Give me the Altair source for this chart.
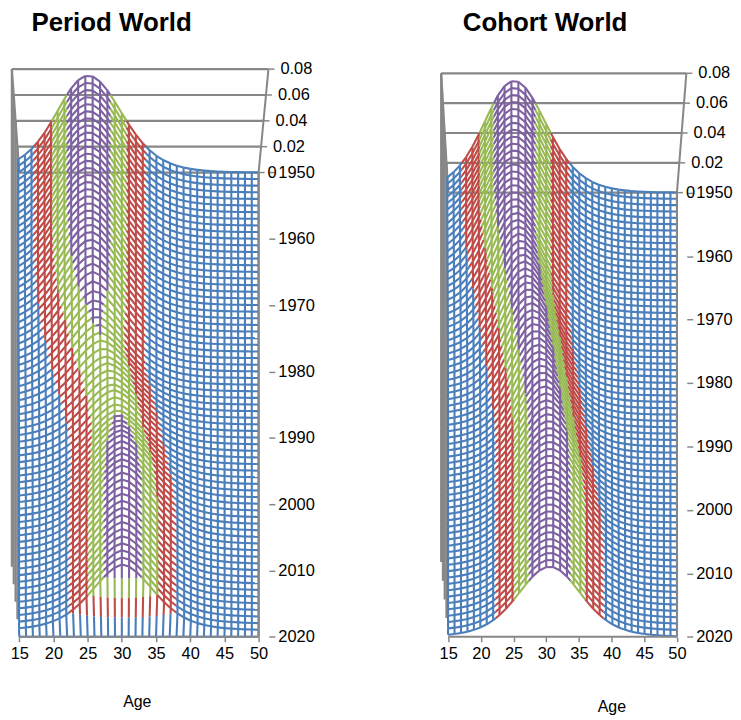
import numpy as np
import pandas as pd
import altair as alt

ages = list(range(15, 51))
years = list(range(1950, 2021))

# Period world, one value per year 1950..2020:
# centre of the younger (left) flank, centre of the older (right) flank, peak height.
# The last row sits on the floor.
period_left_centre = [
    25.4, 25.4, 25.4, 25.4, 25.4, 25.4, 25.4, 25.4, 25.4, 25.4,
    25.4, 25.4, 25.4, 25.4, 25.4, 25.4, 25.4, 25.5, 25.55, 25.6,
    25.7, 25.8, 25.9, 26.0, 26.1, 26.2, 26.3, 26.45, 26.6, 26.75,
    26.85, 26.95, 27.1, 27.3, 27.5, 27.7, 27.95, 28.2, 28.45, 28.7,
    28.95, 29.15, 29.35, 29.6, 29.75, 29.9, 30.05, 30.15, 30.25, 30.35,
    30.4, 30.45, 30.5, 30.5, 30.5, 30.5, 30.5, 30.5, 30.5, 30.5,
    30.5, 30.5, 30.5, 30.5, 30.5, 30.5, 30.5, 30.5, 30.5, 30.5,
    30.5,
]
period_right_centre = [
    25.4, 25.4, 25.4, 25.4, 25.4, 25.4, 25.4, 25.4, 25.4, 25.4,
    25.4, 25.4, 25.4, 25.4, 25.4, 25.4, 25.4, 25.4, 25.4, 25.4,
    25.4, 25.4, 25.4, 25.4, 25.4, 25.45, 25.5, 25.55, 25.6, 25.7,
    25.75, 25.85, 25.95, 26.1, 26.35, 26.7, 27.0, 27.3, 27.6, 27.85,
    28.05, 28.25, 28.45, 28.65, 28.8, 28.95, 29.1, 29.2, 29.3, 29.4,
    29.5, 29.55, 29.6, 29.65, 29.7, 29.75, 29.75, 29.75, 29.75, 29.75,
    29.75, 29.75, 29.75, 29.75, 29.75, 29.75, 29.75, 29.75, 29.75, 29.75,
    29.75,
]
period_peak = [
    0.075, 0.075, 0.075, 0.075, 0.075, 0.075, 0.075, 0.075, 0.075, 0.075,
    0.075, 0.075, 0.075, 0.075, 0.075, 0.075, 0.075, 0.075, 0.075, 0.075,
    0.075, 0.075, 0.075, 0.0745, 0.074, 0.073, 0.072, 0.071, 0.069, 0.067,
    0.065, 0.064, 0.063, 0.062, 0.061, 0.060, 0.059, 0.058, 0.058, 0.058,
    0.058, 0.058, 0.059, 0.059, 0.059, 0.060, 0.062, 0.064, 0.066, 0.068,
    0.070, 0.071, 0.072, 0.073, 0.074, 0.075, 0.075, 0.075, 0.075, 0.075,
    0.075, 0.075, 0.075, 0.075, 0.075, 0.075, 0.075, 0.075, 0.075, 0.075,
    0.0,
]

# Cohort world: mean age of childbearing by birth cohort (1935..1975)
cohort_births = list(range(1935, 1976))
cohort_mean_age = [
    25.4, 25.4, 25.4, 25.4, 25.4,
    25.4, 25.5, 25.6, 25.7, 25.85, 26.0, 26.2, 26.4, 26.6, 26.8,
    27.0, 27.2, 27.4, 27.6, 27.8, 28.0, 28.2, 28.4, 28.6, 28.8,
    29.0, 29.2, 29.4, 29.6, 29.8, 29.95, 30.1, 30.2, 30.3, 30.4,
    30.45, 30.5, 30.5, 30.5, 30.5, 30.5,
]
cohort_peak = 0.075
spread = 6.3  # width of the bell (sech^2 shape), from the 1950 colour bands

band_edges = [0.02, 0.04, 0.06]
band_names = ["0-0.02", "0.02-0.04", "0.04-0.06", "0.06-0.08"]
band_colors = ["#4A7EBB", "#BE4B48", "#98B954", "#7D60A0"]
z_ticks = [0.0, 0.02, 0.04, 0.06, 0.08]
z_labels = ["0", "0.02", "0.04", "0.06", "0.08"]
GRAY = "#878787"
FONT = "Liberation Sans"
FS = 16.5

A, Y = np.meshgrid(ages, years)
mL = np.array(period_left_centre)[:, None]
mR = np.array(period_right_centre)[:, None]
centre = np.where(A < (mL + mR) / 2, mL, mR)
period_z = np.array(period_peak)[:, None] / np.cosh((A - centre) / spread) ** 2
cm = np.array(cohort_mean_age)[np.clip(Y - A - cohort_births[0], 0, len(cohort_births) - 1)]
cohort_z = cohort_peak / np.cosh((A - cm) / spread) ** 2

# view geometry of each panel (pixels per year, pixels per unit of height front/back)
period_view = {"ppy": 6.669, "s_back": 1300, "s_front": 880, "ytop": 1932.53, "width": 261.3}
cohort_view = {"ppy": 6.380, "s_back": 1500, "s_front": 940, "ytop": 1928.57, "width": 249.7}
PLOT_H = 583.3


def project(age, year, z, v):
    x = age + (age - 30.0) * z * 0.9
    s = v["s_back"] + (v["s_front"] - v["s_back"]) * (year - 1950) / 70
    return x, year - z * s / v["ppy"]


def seg(p, q, v, extra=None):
    x0, y0 = project(*p, v)
    x1, y1 = project(*q, v)
    row = {"x": round(float(x0), 3), "x2": round(float(x1), 3),
           "y": round(float(y0), 3), "y2": round(float(y1), 3)}
    if extra:
        row.update(extra)
    return row


def mesh_segments(z, v):
    rows = []

    def add(p, q):
        cuts = [0.0, 1.0] + [(e - p[2]) / (q[2] - p[2]) for e in band_edges
                             if (p[2] - e) * (q[2] - e) < 0]
        cuts.sort()
        for t0, t1 in zip(cuts[:-1], cuts[1:]):
            a = [p[k] + (q[k] - p[k]) * t0 for k in range(3)]
            b = [p[k] + (q[k] - p[k]) * t1 for k in range(3)]
            band = band_names[int(np.searchsorted(band_edges, (a[2] + b[2]) / 2))]
            rows.append(seg(a, b, v, {"band": band}))

    for i, yr in enumerate(years):
        for j in range(len(ages) - 1):
            add((ages[j], yr, z[i, j]), (ages[j + 1], yr, z[i, j + 1]))
        if i + 1 < len(years):
            for j, ag in enumerate(ages):
                add((ag, yr, z[i, j]), (ag, years[i + 1], z[i + 1, j]))
    return pd.DataFrame(rows)


def wall_segments(v):
    rows = [seg((15, 1950, 0.0), (15, 1950, 0.08), v)]
    for zt in z_ticks:
        rows.append(seg((15, 1950, zt), (50, 1950, zt), v))
        if zt > 0:
            rows.append(seg((15, 1950, zt), (15, 2020, zt), v))
    return pd.DataFrame(rows)


def frame_segments(v):
    return pd.DataFrame([
        seg((15, 2020, 0.0), (50, 2020, 0.0), v),
        seg((50, 1950, 0.0), (50, 2020, 0.0), v),
        seg((50, 1950, 0.0), (50, 1950, 0.08), v),
    ])


def panel(z, v, title, title_dx, age_x, age_y):
    xs = alt.Scale(domain=[13.5, 51.5], nice=False, zero=False)
    ys = alt.Scale(domain=[v["ytop"], 2020], reverse=True, nice=False, zero=False)
    x_axis = alt.Axis(values=list(range(15, 51, 5)), domain=False, grid=False,
                      tickColor=GRAY, tickSize=5, tickWidth=1.5,
                      labelFont=FONT, labelFontSize=FS, labelColor="black", labelPadding=4,
                      title="Age", titleFont=FONT, titleFontSize=16, titleFontWeight="normal",
                      titleColor="black", titleX=age_x, titleY=age_y,
                      titleAlign="center", titleBaseline="alphabetic")
    y_axis = alt.Axis(orient="right", values=list(range(1950, 2021, 10)), format="d",
                      domain=False, grid=False, tickColor=GRAY, tickSize=6, tickWidth=1.5,
                      labelFont=FONT, labelFontSize=FS, labelColor="black", labelPadding=3,
                      title=None)
    X = alt.X("x:Q", scale=xs, axis=x_axis)
    Yy = alt.Y("y:Q", scale=ys, axis=y_axis)

    walls = alt.Chart(wall_segments(v)).mark_rule(color=GRAY, strokeWidth=2.2).encode(
        x=X, y=Yy, x2="x2:Q", y2="y2:Q")
    mesh = alt.Chart(mesh_segments(z, v)).mark_rule(strokeWidth=2.1).encode(
        x=X, y=Yy, x2="x2:Q", y2="y2:Q",
        color=alt.Color("band:N", scale=alt.Scale(domain=band_names, range=band_colors),
                        legend=None))
    frame = alt.Chart(frame_segments(v)).mark_rule(color=GRAY, strokeWidth=2).encode(
        x=X, y=Yy, x2="x2:Q", y2="y2:Q")

    zdf = pd.DataFrame([dict(zip(["x", "y"], project(50, 1950, zt, v)), label=lab)
                        for zt, lab in zip(z_ticks, z_labels)])
    zt_marks = alt.Chart(zdf).mark_rule(color=GRAY, strokeWidth=1.5, x2Offset=6).encode(
        x=X, x2="x:Q", y=Yy)
    zt_text = alt.Chart(zdf[zdf["label"] != "0"]).mark_text(
        align="left", baseline="middle", dx=12, font=FONT, fontSize=FS, color="black"
    ).encode(x=X, y=Yy, text="label:N")
    zero_text = alt.Chart(zdf[zdf["label"] == "0"]).mark_text(
        align="left", baseline="middle", dx=9, font=FONT, fontSize=FS, color="black"
    ).encode(x=X, y=Yy, text="label:N")

    return alt.layer(walls, mesh, frame, zt_marks, zt_text, zero_text).properties(
        width=v["width"], height=PLOT_H,
        title=alt.TitleParams(title, font=FONT, fontSize=26, fontWeight="bold",
                              color="black", anchor="middle", dx=title_dx, offset=21))


left = panel(period_z, period_view, "Period World", -27.5, 128.5, 70)
right = panel(cohort_z, cohort_view, "Cohort World", -17.6, 173.9, 75)

chart = alt.hconcat(left, right, spacing=169.8, bounds="flush").properties(
    padding={"left": 1, "top": 0, "right": 0, "bottom": 0}
).configure_view(strokeWidth=0)

chart.save("out.html", embed_options={"renderer": "svg", "actions": False})
